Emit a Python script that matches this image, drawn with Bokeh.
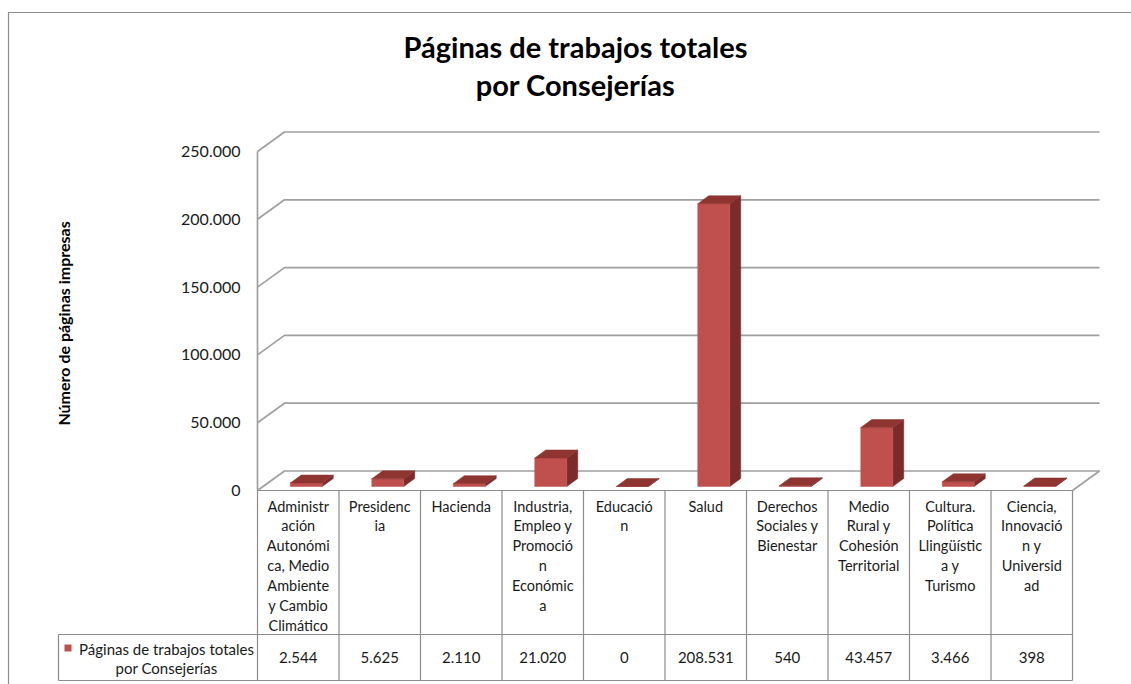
import math
from bokeh.plotting import figure
from bokeh.models import Range1d
from bokeh.core.properties import value
from bokeh.embed import file_html
from bokeh.resources import INLINE

# ---------------- data ----------------
title_lines = ["Páginas de trabajos totales", "por Consejerías"]
y_axis_title = "Número de páginas  impresas"
series_lines = ["Páginas de trabajos totales", "por Consejerías"]
category_labels = [
    "Administr\nación\nAutonómi\nca, Medio\nAmbiente\ny Cambio\nClimático",
    "Presidenc\nia",
    "Hacienda",
    "Industria,\nEmpleo y\nPromoció\nn\nEconómic\na",
    "Educació\nn",
    "Salud",
    "Derechos\nSociales y\nBienestar",
    "Medio\nRural y\nCohesión\nTerritorial",
    "Cultura.\nPolítica\nLlingüístic\na y\nTurismo",
    "Ciencia,\nInnovació\nn y\nUniversid\nad",
]
pages = [2544, 5625, 2110, 21020, 0, 208531, 540, 43457, 3466, 398]
y_ticks = [0, 50000, 100000, 150000, 200000, 250000]
y_max = 250000


def fmt(v):
    return f"{v:,}".replace(",", ".")


# ---------------- layout (page pixels) ----------------
W, H = 1131, 684
ORG_X, ORG_Y = 0, 0           # canvas position on the page
FX, FY = 257, 490             # front-left corner of the floor
CAT_W = 81.5                  # px per category
AXIS_H = 339.0                # px for y_max on the front plane
DEPTH_X, DEPTH_Y = 27.0, 19.5 # depth of the 3D box
BAR_W, BAR_OFF, BAR_FRONT = 32.0, 8.0, 4.0
BAR_DX, BAR_DY = 11.0, 8.0

ppv = AXIS_H / y_max


def dx(px):
    return px / CAT_W


def dy(px):
    return px / ppv


def X(page_x):
    return (page_x - FX) / CAT_W


def Y(page_y):
    return (FY - page_y) / ppv


FONT = value("Lato")
TXT = "#1a1a1a"
GRID = "#a0a0a0"
TBL = "#8c8c8c"
RED = "#C0504D"
RED_SIDE = "#7B2C2A"
RED_TOP = "#8E3431"

p = figure(
    width=W, height=H, output_backend="svg", toolbar_location=None,
    x_range=Range1d(X(ORG_X), X(ORG_X + W)),
    y_range=Range1d(Y(ORG_Y + H), Y(ORG_Y)),
    x_axis_location=None, y_axis_location=None,
    min_border=0,
)
p.grid.visible = False
p.outline_line_color = None
p.background_fill_color = "white"

# outer chart border (top & left)
p.multi_line(
    xs=[[X(8), X(8), X(ORG_X + W)]],
    ys=[[Y(ORG_Y + H), Y(12), Y(12)]],
    line_color="#8c8c8c", line_width=1.2,
)

n = len(pages)
ddx, ddy = dx(DEPTH_X), dy(DEPTH_Y)

# back-wall gridlines + side-wall diagonals
gx, gy = [], []
for t in y_ticks:
    gx.append([0, ddx, n + ddx])
    gy.append([t, t + ddy, t + ddy])
# front-left vertical edge and floor right edge
gx.append([0, 0])
gy.append([0, y_max])
gx.append([n, n + ddx])
gy.append([0, ddy])
p.multi_line(xs=gx, ys=gy, line_color=GRID, line_width=1.7)

# bars (front / side / top)
centers = [i + 0.5 for i in range(n)]
left = [c + dx(BAR_OFF - BAR_W / 2) for c in centers]
right = [c + dx(BAR_OFF + BAR_W / 2) for c in centers]
bottom = [dy(BAR_FRONT)] * n
top = [v + dy(BAR_FRONT) for v in pages]
bdx, bdy = dx(BAR_DX), dy(BAR_DY)

p.patches(
    xs=[[r, r + bdx, r + bdx, r] for r in right],
    ys=[[b, b + bdy, t + bdy, t] for b, t in zip(bottom, top)],
    fill_color=RED_SIDE, line_color=RED_SIDE, line_width=0.5,
)
p.quad(left=left, right=right, bottom=bottom, top=top,
       fill_color=RED, line_color=RED, line_width=0.5)
p.patches(
    xs=[[l, r, r + bdx, l + bdx] for l, r in zip(left, right)],
    ys=[[t, t, t + bdy, t + bdy] for t in top],
    fill_color=RED_TOP, line_color=RED_TOP, line_width=0.5,
)

# ---------------- data table ----------------
ROW_TOP, ROW_BOT, LEG_L = 634, 680, 58
tx, ty = [], []
for i in range(n + 1):
    tx.append([i, i])
    ty.append([0, Y(ROW_BOT)])
tx.append([0, n]); ty.append([0, 0])
tx.append([X(LEG_L), n]); ty.append([Y(ROW_TOP), Y(ROW_TOP)])
tx.append([X(LEG_L), n]); ty.append([Y(ROW_BOT), Y(ROW_BOT)])
tx.append([X(LEG_L), X(LEG_L)]); ty.append([Y(ROW_TOP), Y(ROW_BOT)])
p.multi_line(xs=tx, ys=ty, line_color=TBL, line_width=1.2)

p.text(x=centers, y=[Y(497)] * n, text=category_labels,
       text_font=FONT, text_font_size="14.5px", text_color=TXT,
       text_align="center", text_baseline="top", text_line_height=1.17)

p.text(x=centers, y=[Y(657)] * n,
       text=[fmt(v) for v in pages],
       text_font=FONT, text_font_size="15px", text_color=TXT,
       text_align="center", text_baseline="middle")

# legend key + series name
p.quad(left=[X(64)], right=[X(71)], top=[Y(644)], bottom=[Y(651)],
       fill_color=RED, line_color=None)
p.text(x=[X(166), X(166)], y=[Y(648), Y(667)], text=series_lines,
       text_font=FONT, text_font_size="15px", text_color=TXT,
       text_align="center", text_baseline="middle")

# y tick labels
p.text(x=[X(240)] * len(y_ticks), y=y_ticks, text=[fmt(t) for t in y_ticks],
       text_font=FONT, text_font_size="16px", text_color=TXT,
       text_align="right", text_baseline="middle")

# y axis title
p.text(x=[X(63)], y=[Y(321)], text=[y_axis_title], angle=math.pi / 2,
       text_font=FONT, text_font_size="16px", text_font_style="bold",
       text_color="#000000", text_align="center", text_baseline="middle")

# chart title
p.text(x=[X(575), X(575)], y=[Y(46), Y(84)], text=title_lines,
       text_font=FONT, text_font_size="29px", text_font_style="bold",
       text_color="#000000", text_align="center", text_baseline="middle")

open("out.html", "w").write(file_html(p, INLINE))
